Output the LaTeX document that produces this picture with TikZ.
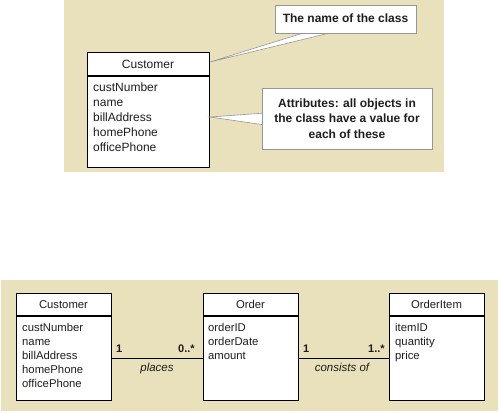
\documentclass[tikz,border=0pt]{standalone}
\usepackage{fontspec}
\setmainfont{Liberation Sans}
\definecolor{beige}{RGB}{232,225,188}
\definecolor{ink}{RGB}{30,30,30}
\definecolor{calloutline}{RGB}{150,150,150}
\begin{document}
\begin{tikzpicture}[x=1pt,y=-1pt,
  classbox/.style={draw=black, line width=1.3pt, fill=white, anchor=north west, inner sep=0pt, minimum width=#1},
  divider/.style={line width=1.8pt},
  attrT/.style={anchor=base west, inner sep=0pt, font=\fontsize{12}{14}\selectfont, text=ink},
  attrB/.style={anchor=base west, inner sep=0pt, font=\fontsize{11.3}{13}\selectfont, text=ink},
  headT/.style={anchor=base, inner sep=0pt, font=\fontsize{12}{14}\selectfont, text=ink},
  headB/.style={anchor=base, inner sep=0pt, font=\fontsize{11.3}{13}\selectfont, text=ink},
  callout/.style={draw=calloutline, line width=0.8pt, fill=white, anchor=north west, inner sep=0pt},
  callouttext/.style={anchor=base, inner sep=0pt, font=\bfseries\fontsize{12}{14}\selectfont, text=ink},
  pointer/.style={draw=calloutline, line width=0.6pt, fill=white},
  mult/.style={anchor=base west, inner sep=0pt, font=\bfseries\fontsize{11}{13}\selectfont, text=ink},
  rolename/.style={anchor=base, inner sep=0pt, font=\itshape\fontsize{11.5}{13}\selectfont, text=ink},
  assoc/.style={line width=0.8pt, draw=black}
]
\useasboundingbox (0,0) rectangle (500,414);
% backgrounds
\fill[beige] (64,0) rectangle (444,172);
\fill[beige] (1,280) rectangle (498,411);

% ===== top panel =====
\node[classbox=122pt, minimum height=115pt] (tcust) at (87,52) {};
\draw[divider] (87,76) -- (209,76);
\node[headT] (tcusth) at (148,69) {Customer};
\foreach \t [count=\i] in {custNumber,name,billAddress,homePhone,officePhone}
  \node[attrT] (tattr\i) at (93,{92+14.8*(\i-1)}) {\t};

% callout pointers (drawn first, boxes cover their bases)
\coordinate (tip1) at (210,62);
\coordinate (tip2) at (210,117);
\path[pointer] (313,30) -- (tip1) -- (342,30) -- cycle;
\path[pointer] (265,113) -- (tip2) -- (265,125) -- cycle;

\node[callout, minimum width=141pt, minimum height=28pt] (call1) at (275,5) {};
\node[callouttext] (call1t) at (345.5,23) {The name of the class};

\node[callout, minimum width=170pt, minimum height=61pt] (call2) at (262,88) {};
\node[callouttext] (call2a) at (347,107.5) {Attributes: all objects in};
\node[callouttext] (call2b) at (347,123) {the class have a value for};
\node[callouttext] (call2c) at (347,138.5) {each of these};

% ===== bottom panel =====
\node[classbox=95pt, minimum height=107pt] (cust) at (16,293) {};
\draw[divider] (16,316) -- (111,316);
\node[headB] (custh) at (63.5,308) {Customer};
\foreach \t [count=\i] in {custNumber,name,billAddress,homePhone,officePhone}
  \node[attrB] (cattr\i) at (22,{331+14*(\i-1)}) {\t};

\node[classbox=95pt, minimum height=107pt] (order) at (203,293) {};
\draw[divider] (203,316) -- (298,316);
\node[headB] (orderh) at (250.5,308) {Order};
\foreach \t [count=\i] in {orderID,orderDate,amount}
  \node[attrB] (oattr\i) at (208,{331+14*(\i-1)}) {\t};

\node[classbox=95pt, minimum height=107pt] (item) at (389,293) {};
\draw[divider] (389,316) -- (484,316);
\node[headB] (itemh) at (436.5,308) {OrderItem};
\foreach \t [count=\i] in {itemID,quantity,price}
  \node[attrB] (iattr\i) at (395,{331+14*(\i-1)}) {\t};

% associations
\coordinate (assocY) at (0,358);
\draw[assoc] (cust.east |- assocY) -- (order.west |- assocY);
\draw[assoc] (order.east |- assocY) -- (item.west |- assocY);

\node[mult] (m1) at (116,352) {1};
\node[mult] (m2) at (178,352) {0..*};
\node[rolename] (r1) at (157,371.5) {places};
\node[mult] (m3) at (303,352) {1};
\node[mult] (m4) at (368,352) {1..*};
\node[rolename] (r2) at (342,371.5) {consists of};
\end{tikzpicture}
\end{document}
